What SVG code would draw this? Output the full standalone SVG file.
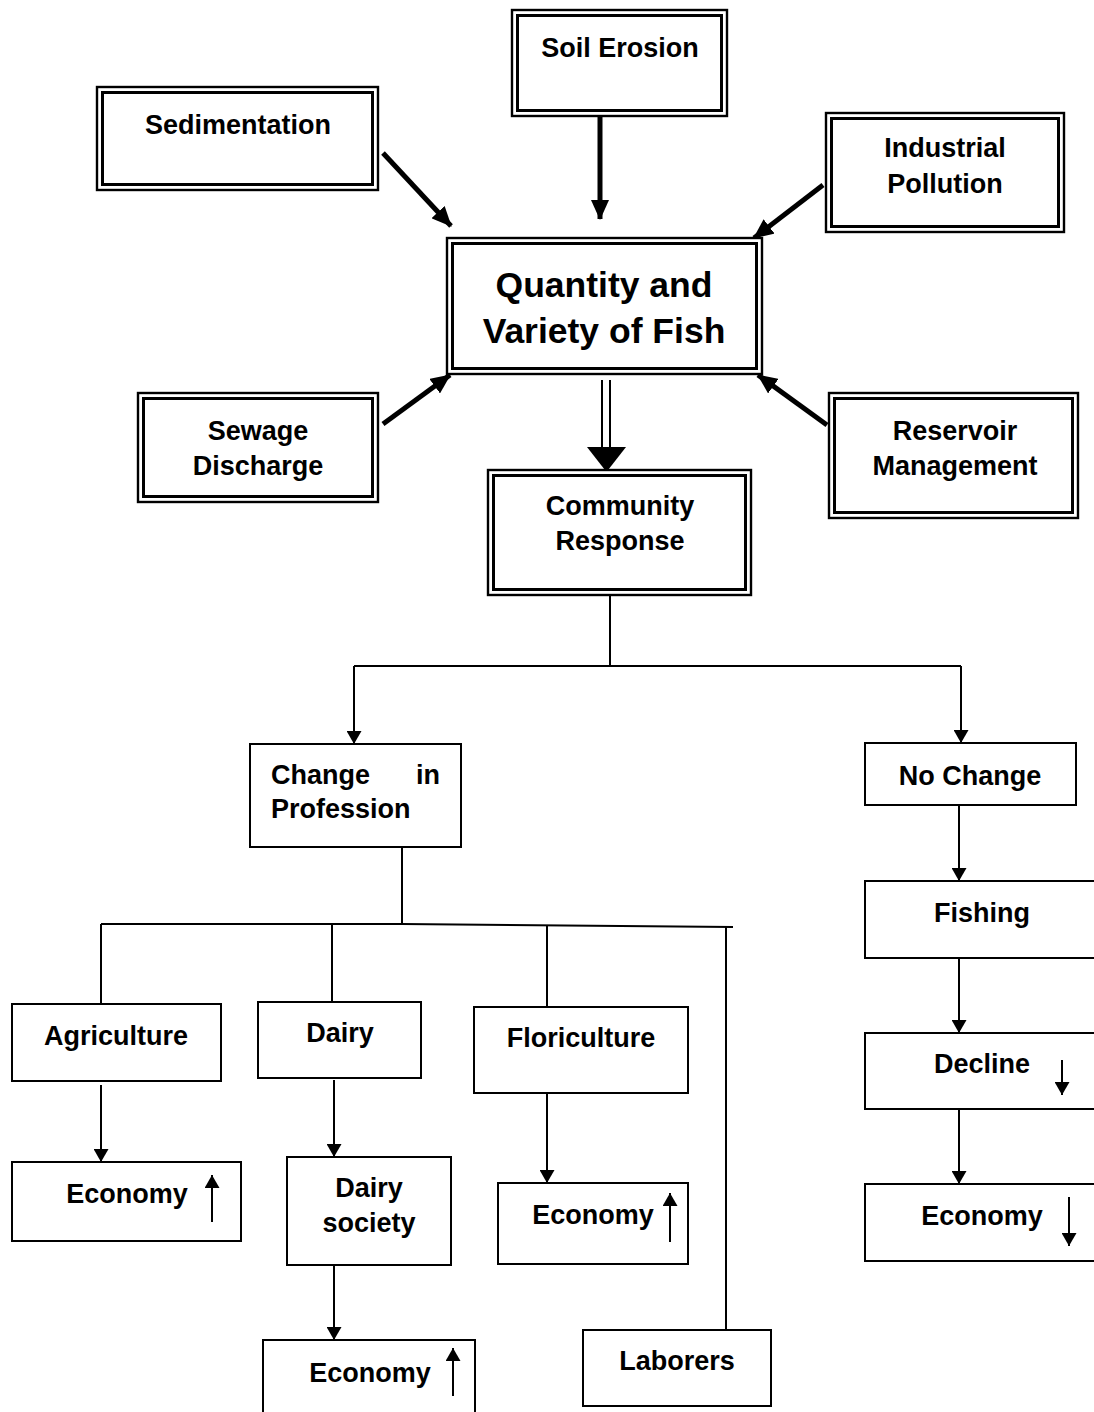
<svg xmlns="http://www.w3.org/2000/svg" width="1094" height="1412" viewBox="0 0 1094 1412">
  <style>
    .bg { fill: #ffffff; }
    .outer { fill: #ffffff; stroke: #000; stroke-width: 2.4; }
    .inner { fill: none; stroke: #000; stroke-width: 3; }
    .box { fill: #ffffff; stroke: #000; stroke-width: 2; }
    .lbl { font-family: "Liberation Sans", Arial, sans-serif; font-weight: bold; font-size: 27px; fill: #000; }
    .mid { text-anchor: middle; }
    .big { font-size: 35.5px; }
    .thick { stroke: #000; stroke-width: 5; fill: none; }
    .thin { stroke: #000; stroke-width: 2; fill: none; }
  </style>
  <defs>
    <!-- heavy arrowhead for the cause arrows -->
    <marker id="headBold" viewBox="0 0 20 18" refX="19" refY="9" markerWidth="20" markerHeight="18" markerUnits="userSpaceOnUse" orient="auto">
      <path d="M0,0 L20,9 L0,18 Z" fill="#000"/>
    </marker>
    <!-- standard arrowhead for the thin connectors -->
    <marker id="head" viewBox="0 0 13 15" refX="13" refY="7.5" markerWidth="13" markerHeight="15" markerUnits="userSpaceOnUse" orient="auto">
      <path d="M0,0 L13,7.5 L0,15 Z" fill="#000"/>
    </marker>
  </defs>

  <rect class="bg" x="0" y="0" width="1094" height="1412"/>

  <!-- connectors -->
  <g id="connectors">
    <!-- causes into the central box -->
    <line class="thick" x1="600" y1="116" x2="600" y2="219" marker-end="url(#headBold)"/>
    <line class="thick" x1="383" y1="153" x2="451" y2="226" marker-end="url(#headBold)"/>
    <line class="thick" x1="823" y1="185" x2="754" y2="238" marker-end="url(#headBold)"/>
    <line class="thick" x1="383" y1="424" x2="450" y2="375" marker-end="url(#headBold)"/>
    <line class="thick" x1="827" y1="425" x2="758" y2="375" marker-end="url(#headBold)"/>

    <!-- double-shafted arrow to community response -->
    <line class="thin" x1="602" y1="380" x2="602" y2="450"/>
    <line class="thin" x1="610" y1="380" x2="610" y2="450"/>
    <path d="M587,447 L626,447 L606.5,472 Z" fill="#000"/>

    <!-- community response split -->
    <line class="thin" x1="610" y1="595" x2="610" y2="666"/>
    <polyline class="thin" points="354,666 961,666"/>
    <line class="thin" x1="354" y1="666" x2="354" y2="744" marker-end="url(#head)"/>
    <line class="thin" x1="961" y1="666" x2="961" y2="743" marker-end="url(#head)"/>

    <!-- change in profession branches -->
    <line class="thin" x1="402" y1="847" x2="402" y2="924"/>
    <polyline class="thin" points="101,924 402,924 733,927"/>
    <line class="thin" x1="101" y1="924" x2="101" y2="1004"/>
    <line class="thin" x1="332" y1="924" x2="332" y2="1002"/>
    <line class="thin" x1="547" y1="926" x2="547" y2="1007"/>
    <line class="thin" x1="726" y1="926" x2="726" y2="1330"/>

    <!-- professions to outcomes -->
    <line class="thin" x1="101" y1="1085" x2="101" y2="1162" marker-end="url(#head)"/>
    <line class="thin" x1="334" y1="1080" x2="334" y2="1157" marker-end="url(#head)"/>
    <line class="thin" x1="547" y1="1082" x2="547" y2="1183" marker-end="url(#head)"/>
    <line class="thin" x1="334" y1="1265" x2="334" y2="1340" marker-end="url(#head)"/>

    <!-- no change chain -->
    <line class="thin" x1="959" y1="805" x2="959" y2="881" marker-end="url(#head)"/>
    <line class="thin" x1="959" y1="955" x2="959" y2="1033" marker-end="url(#head)"/>
    <line class="thin" x1="959" y1="1105" x2="959" y2="1184" marker-end="url(#head)"/>
  </g>

  <!-- framed nodes (double border) -->
  <g id="soil-erosion">
    <rect class="outer" x="512" y="10" width="215" height="106"/>
    <rect class="inner" x="517.5" y="15.5" width="204" height="95"/>
    <text class="lbl mid" x="620" y="57">Soil Erosion</text>
  </g>

  <g id="sedimentation">
    <rect class="outer" x="97" y="87" width="281" height="103"/>
    <rect class="inner" x="102.5" y="92.5" width="270" height="92"/>
    <text class="lbl mid" x="238" y="134">Sedimentation</text>
  </g>

  <g id="industrial-pollution">
    <rect class="outer" x="826" y="113" width="238" height="119"/>
    <rect class="inner" x="831.5" y="118.5" width="227" height="108"/>
    <text class="lbl mid" x="945" y="157">Industrial</text>
    <text class="lbl mid" x="945" y="193">Pollution</text>
  </g>

  <g id="fish">
    <rect class="outer" x="447" y="238" width="315" height="136"/>
    <rect class="inner" x="452.5" y="243.5" width="304" height="125"/>
    <text class="lbl mid big" x="604" y="297">Quantity and</text>
    <text class="lbl mid big" x="604" y="343">Variety of Fish</text>
  </g>

  <g id="sewage-discharge">
    <rect class="outer" x="138" y="393" width="240" height="109"/>
    <rect class="inner" x="143.5" y="398.5" width="229" height="98"/>
    <text class="lbl mid" x="258" y="440">Sewage</text>
    <text class="lbl mid" x="258" y="475">Discharge</text>
  </g>

  <g id="reservoir-management">
    <rect class="outer" x="829" y="393" width="249" height="125"/>
    <rect class="inner" x="834.5" y="398.5" width="238" height="114"/>
    <text class="lbl mid" x="955" y="440">Reservoir</text>
    <text class="lbl mid" x="955" y="475">Management</text>
  </g>

  <g id="community-response">
    <rect class="outer" x="488" y="470" width="263" height="125"/>
    <rect class="inner" x="493.5" y="475.5" width="252" height="114"/>
    <text class="lbl mid" x="620" y="515">Community</text>
    <text class="lbl mid" x="620" y="550">Response</text>
  </g>

  <!-- plain nodes -->
  <g id="change-in-profession">
    <rect class="box" x="250" y="744" width="211" height="103"/>
    <text class="lbl" x="271" y="784">Change</text>
    <text class="lbl" x="440" y="784" text-anchor="end">in</text>
    <text class="lbl" x="271" y="818">Profession</text>
  </g>

  <g id="no-change">
    <rect class="box" x="865" y="743" width="211" height="62"/>
    <text class="lbl mid" x="970" y="785">No Change</text>
  </g>

  <g id="fishing">
    <rect class="box" x="865" y="881" width="240" height="77"/>
    <text class="lbl mid" x="982" y="922">Fishing</text>
  </g>

  <g id="decline">
    <rect class="box" x="865" y="1033" width="240" height="76"/>
    <text class="lbl mid" x="982" y="1073">Decline</text>
    <line class="thin" x1="1062" y1="1060" x2="1062" y2="1095" marker-end="url(#head)"/>
  </g>

  <g id="economy-fishing">
    <rect class="box" x="865" y="1184" width="240" height="77"/>
    <text class="lbl mid" x="982" y="1225">Economy</text>
    <line class="thin" x1="1069" y1="1197" x2="1069" y2="1246" marker-end="url(#head)"/>
  </g>

  <g id="agriculture">
    <rect class="box" x="12" y="1004" width="209" height="77"/>
    <text class="lbl mid" x="116" y="1045">Agriculture</text>
  </g>

  <g id="dairy">
    <rect class="box" x="258" y="1002" width="163" height="76"/>
    <text class="lbl mid" x="340" y="1042">Dairy</text>
  </g>

  <g id="floriculture">
    <rect class="box" x="474" y="1007" width="214" height="86"/>
    <text class="lbl mid" x="581" y="1047">Floriculture</text>
  </g>

  <g id="economy-agriculture">
    <rect class="box" x="12" y="1162" width="229" height="79"/>
    <text class="lbl mid" x="127" y="1203">Economy</text>
    <line class="thin" x1="212" y1="1222" x2="212" y2="1175" marker-end="url(#head)"/>
  </g>

  <g id="dairy-society">
    <rect class="box" x="287" y="1157" width="164" height="108"/>
    <text class="lbl mid" x="369" y="1197">Dairy</text>
    <text class="lbl mid" x="369" y="1232">society</text>
  </g>

  <g id="economy-floriculture">
    <rect class="box" x="498" y="1183" width="190" height="81"/>
    <text class="lbl mid" x="593" y="1224">Economy</text>
    <line class="thin" x1="670" y1="1242" x2="670" y2="1193" marker-end="url(#head)"/>
  </g>

  <g id="economy-dairy">
    <rect class="box" x="263" y="1340" width="212" height="90"/>
    <text class="lbl mid" x="370" y="1382">Economy</text>
    <line class="thin" x1="453" y1="1396" x2="453" y2="1348" marker-end="url(#head)"/>
  </g>

  <g id="laborers">
    <rect class="box" x="583" y="1330" width="188" height="76"/>
    <text class="lbl mid" x="677" y="1370">Laborers</text>
  </g>
</svg>
